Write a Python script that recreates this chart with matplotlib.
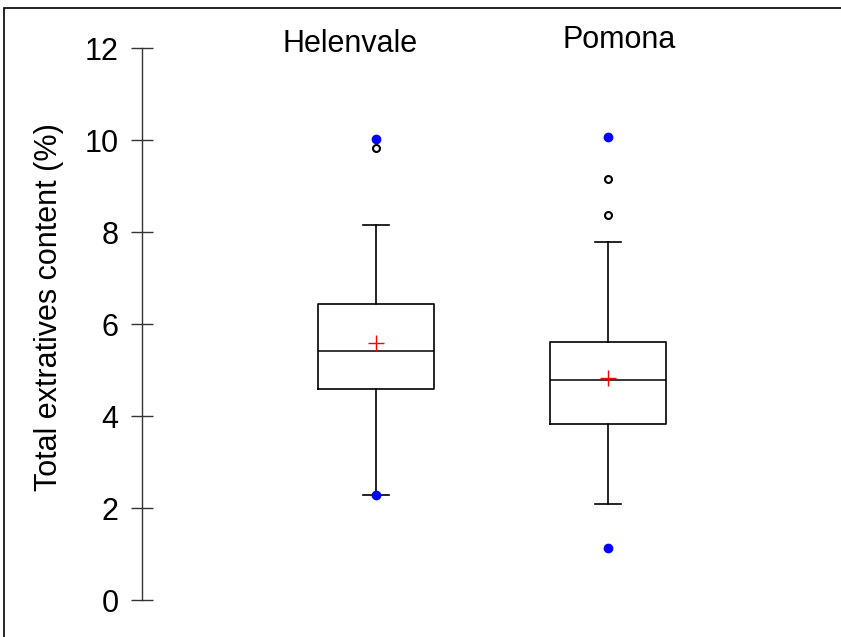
import matplotlib
matplotlib.use("Agg")
import matplotlib.pyplot as plt
from matplotlib.patches import Rectangle

plt.rcParams['font.family'] = ['Liberation Sans', 'DejaVu Sans']

# ---- data ----
sites = ["Helenvale", "Pomona"]
q1 = [4.59, 3.82]
median = [5.41, 4.79]
q3 = [6.43, 5.61]
whisker_low = [2.28, 2.09]
whisker_high = [8.16, 7.79]
means = [5.58, 4.83]
minimum = [2.28, 1.13]
maximum = [10.02, 10.07]
outliers = [[9.82], [9.15, 8.37]]
yticks = [0, 2, 4, 6, 8, 10, 12]

W, H = 841, 637
FS = 22
fig = plt.figure(figsize=(W / 100, H / 100), dpi=100)
ax = fig.add_axes([142 / W, 1 - 600 / H, 699 / W, 552 / H])

positions = [1, 2]
stats = []
for i, name in enumerate(sites):
    stats.append(dict(label=name, q1=q1[i], med=median[i], q3=q3[i],
                      whislo=whisker_low[i], whishi=whisker_high[i],
                      mean=means[i], fliers=outliers[i]))

line_kw = dict(color='black', linewidth=1.2)
ax.bxp(stats, positions=positions, widths=0.5, capwidths=0.108,
       showmeans=True, showfliers=True,
       boxprops=line_kw, whiskerprops=line_kw, capprops=line_kw,
       medianprops=dict(color='black', linewidth=1.1),
       meanprops=dict(marker='+', markeredgecolor='red', markersize=12,
                      markeredgewidth=1.0, linestyle='none'),
       flierprops=dict(marker='o', markerfacecolor='white', markeredgecolor='black',
                       markersize=5, markeredgewidth=1.5, linestyle='none'))

ax.plot(positions, minimum, 'o', color='blue', markersize=6, zorder=5, linestyle='none')
ax.plot(positions, maximum, 'o', color='blue', markersize=6, zorder=5, linestyle='none')

ax.set_xlim(1 - 234 / 232, 2 + 233 / 232)
ax.set_ylim(0, 12)
ax.set_yticks(yticks)
ax.set_xticks([])
for s in ['top', 'right', 'bottom']:
    ax.spines[s].set_visible(False)
ax.spines['left'].set_linewidth(1.0)
ax.spines['left'].set_color('#333333')
ax.tick_params(axis='y', direction='inout', length=16, width=1.0, pad=9,
               labelsize=FS, color='#333333')
ax.set_ylabel("Total extratives content (%)", fontsize=FS)
ax.yaxis.set_label_coords(-0.112, 0.531)

# site labels at the top
fig.text(350.5 / W, 1 - 51.7 / H, sites[0], ha='center', va='baseline', fontsize=FS)
fig.text(619 / W, 1 - 48.3 / H, sites[1], ha='center', va='baseline', fontsize=FS)

# outer frame
fig.patches.append(Rectangle((4 / W, -0.1), 1.2, 1.1 - 8 / H,
                             transform=fig.transFigure, fill=False,
                             edgecolor='black', linewidth=1.2))

fig.savefig("out.png", dpi=100)
